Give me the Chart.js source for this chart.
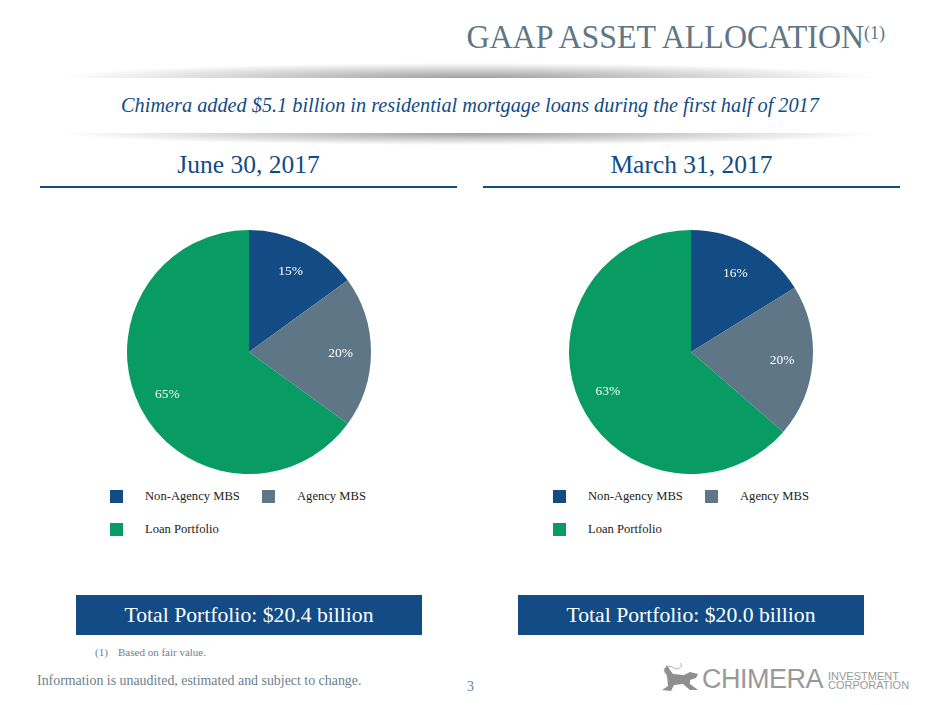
<!DOCTYPE html>
<html>
<head>
<meta charset="utf-8">
<script src="https://cdn.jsdelivr.net/npm/chart.js@4"></script>
<style>
  html, body { margin: 0; padding: 0; background: #fff; }
  body { width: 940px; height: 705px; position: relative; overflow: hidden; font-family: "Liberation Serif", serif; }
  .abs { position: absolute; white-space: nowrap; }
  .title { right: 55px; top: 18px; font-size: 34px; color: #5f7686; }
  .title span { display: inline-block; transform: scaleX(.94); transform-origin: right center; }
  .title sup { font-size: 18px; line-height: 0; vertical-align: 9px; }
  .band { left: 60px; width: 820px; }
  .band1 { top: 63px; height: 15px; background: radial-gradient(ellipse 50% 100% at 50% 100%, rgba(0,0,0,.38), rgba(0,0,0,0) 100%); }
  .band2 { top: 133px; height: 12px; background: radial-gradient(ellipse 50% 100% at 50% 0, rgba(0,0,0,.38), rgba(0,0,0,0) 100%); }
  .sub { left: 0; width: 940px; text-align: center; top: 94px; font-size: 20.3px; font-style: italic; color: #134b84; }
  .head { font-size: 25.5px; color: #134b84; text-align: center; top: 150px; width: 417px; }
  .rule { height: 2px; width: 417px; top: 186px; background: #134b84; }
  canvas { position: absolute; }
  .swatch { width: 13px; height: 13px; }
  .ltext { font-size: 12.6px; color: #222; }
  .total { width: 346px; height: 40px; top: 595px; background: #134b84; color: #fff; font-size: 21.7px; line-height: 40px; text-align: center; }
  .note { font-size: 11px; color: #6b7f8d; }
  .foot { font-size: 13.9px; color: #6b7f8d; }
  .logo { font-family: "Liberation Sans", sans-serif; color: #999; }
</style>
</head>
<body>
<div class="abs title"><span>GAAP ASSET ALLOCATION</span><sup>(1)</sup></div>
<div class="abs band band1"></div>
<div class="abs band band2"></div>
<div class="abs sub">Chimera added $5.1 billion in residential mortgage loans during the first half of 2017</div>

<div id="panels"></div>

<div class="abs note" style="left:95px;top:646px">(1)</div>
<div class="abs note" style="left:118px;top:646px">Based on fair value.</div>
<div class="abs foot" style="left:37px;top:673px">Information is unaudited, estimated and subject to change.</div>
<div class="abs foot" style="left:467px;top:679px">3</div>

<svg class="abs" style="left:660px;top:662px" width="42" height="32" viewBox="0 0 42 32">
  <path d="M2 28 L8 24 L7 14 L4 8 L7 3 L10 8 L13 12 L24 13 L30 10 L38 12 L36 16 L30 18 L30 22 L38 28 L30 28 L23 22 L14 23 L11 29 Z" fill="#8f8f8f"/>
  <path d="M6 12 C1 6 8 2 14 6 C18 9 24 4 20 1" fill="none" stroke="#aaa" stroke-width="1"/>
</svg>
<div class="abs logo" style="left:702px;top:664px;font-size:27px;letter-spacing:-.5px">CHIMERA</div>
<div class="abs logo" style="left:828px;top:672px;font-size:11px;line-height:9px">INVESTMENT<br>CORPORATION</div>

<script>
// Slices, same order in both pies
const categories = ['Non-Agency MBS', 'Agency MBS', 'Loan Portfolio'];
const juneValues = [15, 20, 65];
const marchValues = [16, 20, 63];
const sliceColors = ['#134b84', '#5f7686', '#089b63'];

const panelDates = ['June 30, 2017', 'March 31, 2017'];
const panelTotals = ['Total Portfolio: $20.4 billion', 'Total Portfolio: $20.0 billion'];

// Percent labels sit at 3/4 radius
const labelPlugin = {
    id: 'pctLabels',
    afterDatasetsDraw(chart) {
        const { ctx } = chart;
        const meta = chart.getDatasetMeta(0);
        ctx.save();
        ctx.font = '13.5px "Liberation Serif"';
        ctx.textAlign = 'center';
        ctx.textBaseline = 'middle';
        ctx.fillStyle = '#fff';
        meta.data.forEach((arc, i) => {
            const mid = (arc.startAngle + arc.endAngle) / 2;
            const x = arc.x + Math.cos(mid) * arc.outerRadius * 0.75;
            const y = arc.y + Math.sin(mid) * arc.outerRadius * 0.75 + 1;
            ctx.fillText(chart.data.datasets[0].data[i] + '%', x, y);
        });
        ctx.restore();
    }
};

function addDiv(className, style, text) {
    const div = document.createElement('div');
    div.className = 'abs ' + className;
    div.style.cssText = style;
    if (text) div.textContent = text;
    document.getElementById('panels').appendChild(div);
    return div;
}

function buildPanel(left, pieCenter, boxLeft, date, total, values) {
    addDiv('head', `left:${left}px`, date);
    addDiv('rule', `left:${left}px`);

    const canvas = document.createElement('canvas');
    canvas.width = 260;
    canvas.height = 260;
    canvas.style.cssText = `left:${pieCenter - 130}px;top:222px;width:260px;height:260px`;
    document.getElementById('panels').appendChild(canvas);

    new Chart(canvas.getContext('2d'), {
        type: 'pie',
        data: {
            labels: categories,
            datasets: [{ data: values, backgroundColor: sliceColors, borderWidth: 0 }]
        },
        options: {
            responsive: false,
            animation: false,
            layout: { padding: 8 },
            plugins: {
                legend: { display: false },
                tooltip: { enabled: false }
            }
        },
        plugins: [labelPlugin]
    });

    // legend, two rows like the slide
    const slots = [[left + 70, 490], [left + 222, 490], [left + 70, 523]];
    categories.forEach((name, i) => {
        addDiv('swatch', `left:${slots[i][0]}px;top:${slots[i][1]}px;background:${sliceColors[i]}`);
        addDiv('ltext', `left:${slots[i][0] + 35}px;top:${slots[i][1] - 1}px`, name);
    });

    addDiv('total', `left:${boxLeft}px`, total);
}

buildPanel(40, 248.5, 76, panelDates[0], panelTotals[0], juneValues);
buildPanel(483, 691, 518, panelDates[1], panelTotals[1], marchValues);
</script>
</body>
</html>
